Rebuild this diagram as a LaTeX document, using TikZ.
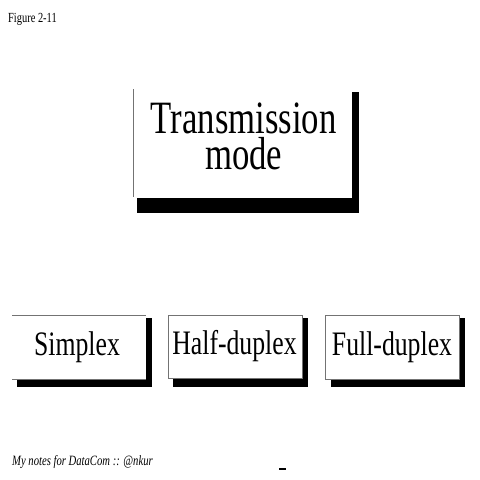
\documentclass[tikz,border=0pt]{standalone}
\usepackage{fontspec}
\newfontfamily\cfont[FakeStretch=0.75]{Liberation Serif}
\begin{document}
\begin{tikzpicture}[x=1pt,y=-1pt,
  edge/.style={draw=black!55,line width=0.8pt},
  shadow/.style={fill=black},
  paper/.style={fill=white},
  bigtxt/.style={anchor=base,inner sep=0pt,align=center,font=\cfont\fontsize{46.3}{36}\selectfont},
  modetxt/.style={anchor=base,inner sep=0pt,font=\cfont\fontsize{34.3}{34}\selectfont},
  smalltxt/.style={anchor=base west,inner sep=0pt,font=\cfont\fontsize{13.9}{14}\selectfont},
  foottxt/.style={anchor=base west,inner sep=0pt,font=\cfont\itshape\fontsize{14.2}{14}\selectfont}]
\useasboundingbox (0,0) rectangle (480,480);
\fill[white] (0,0) rectangle (480,480);
% header and footer
\node[smalltxt] (fig) at (8,22) {Figure 2-11};
\node[foottxt] (foot) at (12,465) {My notes for DataCom :: @nkur};
\draw[line width=1.1pt] (279,469) -- (286,469);
% top box
\fill[shadow] (137,92) rectangle (359,213);
\fill[paper] (133,89) rectangle (352,198);
\draw[edge] (133,89) -- (133,197);
\node[bigtxt] (tm) at (243.7,169) {Transmission\\mode};
% Simplex
\fill[shadow] (17,318) rectangle (152,387);
\fill[paper] (12,315) rectangle (146,379);
\draw[edge] (12,315) -- (146,315);
\draw[edge] (12,379) -- (146,379);
\node[modetxt] (simplex) at (77,355) {Simplex};
% Half-duplex
\fill[shadow] (173,318) rectangle (308,387);
\fill[paper] (168,315) rectangle (302,378);
\draw[edge] (168,315) rectangle (302,378);
\node[modetxt] (half) at (234.5,354) {Half-duplex};
% Full-duplex
\fill[shadow] (331,318) rectangle (465,387);
\fill[paper] (325,315) rectangle (459,379);
\draw[edge] (325,315) rectangle (459,379);
\node[modetxt] (full) at (392,355) {Full-duplex};
\end{tikzpicture}
\end{document}
